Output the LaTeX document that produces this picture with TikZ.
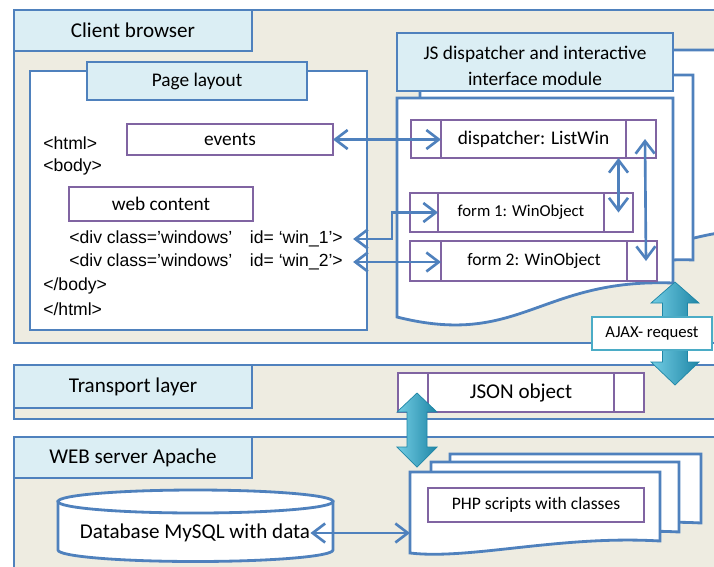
\documentclass[tikz,border=0pt]{standalone}
\usepackage{fontspec}
\setmainfont{Carlito}
\newfontfamily\codefont[Ligatures=TeX]{Liberation Sans}
\usetikzlibrary{positioning,arrows.meta}

\definecolor{frameblue}{HTML}{4F81BD}
\definecolor{paper}{HTML}{EEECE1}
\definecolor{tabblue}{HTML}{DBEEF4}
\definecolor{objpurple}{HTML}{8064A2}
\definecolor{ajaxteal}{HTML}{4BACC6}
\definecolor{ajaxlight}{HTML}{72CDE4}
\definecolor{ajaxmid}{HTML}{3FAFCF}
\definecolor{ajaxdark}{HTML}{1F86A6}

% one unit = one pixel of the layout grid
\newlength\pxl
\setlength\pxl{0.02cm}

\begin{document}
\begin{tikzpicture}[x=0.02cm,y=-0.02cm,>={Straight Barb[length=2.5mm,width=3.8mm]}]
\tikzstyle{frame}=[draw=frameblue, fill=paper, line width=1.6pt]
\tikzstyle{sheet}=[draw=frameblue, fill=white, line width=1.6pt]
\tikzstyle{tab}=[draw=frameblue, fill=tabblue, line width=1.6pt, inner sep=0pt,
outer sep=0pt, font=\fontsize{12}{14}\selectfont]
\tikzstyle{obj}=[draw=objpurple, fill=white, line width=1.4pt, inner sep=0pt,
outer sep=0pt, font=\fontsize{11}{13}\selectfont]
\tikzstyle{cell}=[obj, minimum width=30\pxl]
\tikzstyle{code}=[anchor=west, inner sep=0pt, font=\codefont\fontsize{10}{12}\selectfont]
\tikzstyle{link}=[<->, draw=frameblue, line width=1.5pt]
\tikzstyle{bigarrow}=[draw=ajaxdark, line width=0.4pt, left color=ajaxlight,
middle color=ajaxmid, right color=ajaxdark]

\useasboundingbox (0,0) rectangle (714,566);
\clip (0,0) rectangle (714,566);

% layers
\draw[frame] (14,10) rectangle (740,343);
\draw[frame] (14,365) rectangle (740,419);
\draw[frame] (14,437) rectangle (740,600);

\node[tab, minimum width=238\pxl, minimum height=41\pxl] (client) at (133,30.5) {Client browser};
\node[tab, minimum width=238\pxl, minimum height=43\pxl] (transport) at (133,386.5) {Transport layer};
\node[tab, minimum width=238\pxl, minimum height=41\pxl] (server) at (133,457.5) {WEB server Apache};

% page layout
\draw[sheet] (30,71) rectangle (367,330);
\node[tab, minimum width=220\pxl, minimum height=38\pxl, font=\fontsize{11}{13}\selectfont] (layout) at (197,81) {Page layout};

\node[obj, minimum width=206\pxl, minimum height=31\pxl] (events) at (230,139.5) {events};
\node[obj, minimum width=184\pxl, minimum height=34\pxl] (content) at (161,204) {web content};

\node[code] (html) at (43,143) {<html>};
\node[code] (body) at (43,167) {<body>};
\node[code] (win1) at (69,239) {<div class='windows'\quad id= `win\_1'>};
\node[code] (win2) at (69,262) {<div class='windows'\quad id= `win\_2'>};
\node[code] (endbody) at (43,286) {</body>};
\node[code] (endhtml) at (43,309) {</html>};

% JS module, stacked sheets
\draw[sheet] (440,50) -- (740,50) -- (740,230) .. controls (640,240) and (560,300) .. (440,300) -- cycle;
\draw[sheet] (420,75) -- (693,75) -- (693,260) .. controls (600,255) and (520,320) .. (420,305) -- cycle;
\draw[sheet] (397,98) -- (673,98) -- (673,283) .. controls (540,278) and (520,348) .. (397,317) -- cycle;
\node[tab, minimum width=276\pxl, minimum height=58\pxl] (js) at (535,62) {};
\node[align=center, inner sep=0pt, font=\fontsize{11}{15}\selectfont] (jstext) at (535,66)
{JS dispatcher and interactive\\interface module};

\node[obj, minimum width=185\pxl, minimum height=38\pxl] (disp) at (533.5,139) {dispatcher: ListWin};
\node[cell, minimum height=38\pxl, left=0pt of disp] (dispL) {};
\node[cell, minimum height=38\pxl, right=0pt of disp] (dispR) {};

\node[obj, minimum width=166\pxl, minimum height=39\pxl, font=\fontsize{9.5}{11}\selectfont] (form1) at (521,212.5) {form 1: WinObject};
\node[cell, minimum width=28\pxl, minimum height=39\pxl, left=0pt of form1] (f1L) {};
\node[cell, minimum width=29\pxl, minimum height=39\pxl, right=0pt of form1] (f1R) {};

\node[obj, minimum width=186\pxl, minimum height=40\pxl, font=\fontsize{10}{12}\selectfont] (form2) at (534,261) {form 2: WinObject};
\node[cell, minimum width=31\pxl, minimum height=40\pxl, left=0pt of form2] (f2L) {};
\node[cell, minimum width=30\pxl, minimum height=40\pxl, right=0pt of form2] (f2R) {};

% transport
\node[obj, minimum width=186\pxl, minimum height=39\pxl, font=\fontsize{12}{14}\selectfont] (json) at (521,392.5) {JSON object};
\node[cell, minimum height=39\pxl, left=0pt of json] (jsonL) {};
\node[cell, minimum height=39\pxl, right=0pt of json] (jsonR) {};

% web server: database and php scripts
\draw[sheet] (58,501.5) -- (58,550) arc[start angle=180, end angle=360, x radius=2.75cm, y radius=0.23cm] -- (333,501.5) -- cycle;
\draw[sheet] (195.5,501.5) ellipse[x radius=2.75cm, y radius=0.23cm];
\node[font=\fontsize{12}{14}\selectfont, inner sep=0pt] (db) at (195,533) {Database MySQL with data};

\draw[sheet] (450,454) -- (701,454) -- (701,523) .. controls (610,518) and (560,540) .. (450,535) -- cycle;
\draw[sheet] (431,462) -- (679,462) -- (679,532) .. controls (590,527) and (540,550) .. (431,544) -- cycle;
\draw[sheet] (410,472) -- (660,472) -- (660,541) .. controls (560,535) and (470,560) .. (410,553) -- cycle;
\coordinate (php) at (410,533);
\node[obj, minimum width=216\pxl, minimum height=34\pxl, font=\fontsize{10}{12}\selectfont] (scripts) at (536,505) {PHP scripts with classes};

% links
\draw[link] (events.east) -- (events.east -| dispL.east);
\draw[link] ([xshift=10\pxl]win1.east) -| ([xshift=-18\pxl]f1L.west) -- (f1L.east);
\draw[link] ([xshift=10\pxl]win2.east) -- (win2.east -| f2L.east);
\draw[link] (f1R.center |- disp.south) -- (f1R.center);
\draw[link] ([xshift=4\pxl]dispR.center) -- ([xshift=4\pxl]f2R.center);
\draw[link] (db.east) -- (php);

% big double arrows
\coordinate (ajaxtip) at (675,282);
\coordinate (jsontip) at (417,393);
\shade[bigarrow] (ajaxtip) -- ++(24,21) -- ++(-11.5,0) -- ++(0,59) -- ++(11.5,0) -- ++(-24,23)
  -- ++(-24,-23) -- ++(11.5,0) -- ++(0,-59) -- ++(-11.5,0) -- cycle;
\shade[bigarrow] (jsontip) -- ++(20,19) -- ++(-10,0) -- ++(0,35) -- ++(10,0) -- ++(-20,20)
  -- ++(-20,-20) -- ++(10,0) -- ++(0,-35) -- ++(-10,0) -- cycle;
\node[draw=ajaxteal, fill=white, line width=1.6pt, minimum width=120\pxl, minimum height=33\pxl,
font=\fontsize{9.5}{11}\selectfont] (ajax) at (652,333.5) {AJAX- request};
\end{tikzpicture}
\end{document}
